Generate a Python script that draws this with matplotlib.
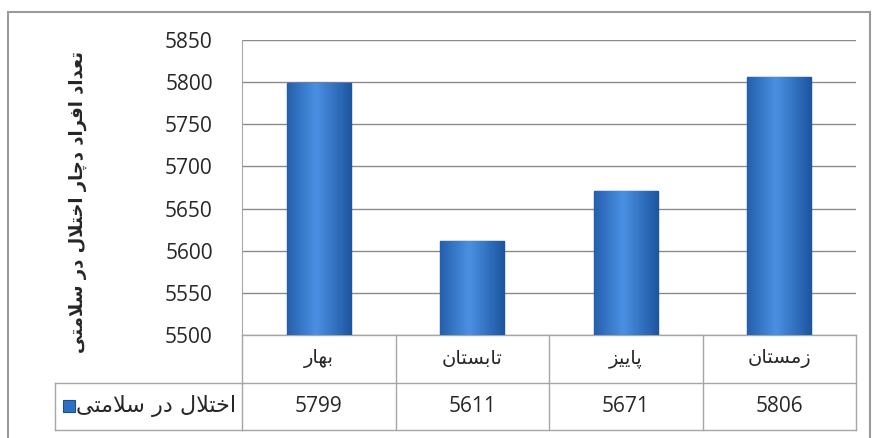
import numpy as np
import matplotlib
matplotlib.use('Agg')
import matplotlib.pyplot as plt
from matplotlib.patches import Rectangle
from matplotlib.transforms import blended_transform_factory

# data
seasons = ['بهار', 'تابستان', 'پاییز', 'زمستان']
values = [5799, 5611, 5671, 5806]
series_name = 'اختلال در سلامتی'
y_title = 'تعداد افراد دچار اختلال در سلامتی'
y_ticks = [5500, 5550, 5600, 5650, 5700, 5750, 5800, 5850]

# arabic shaping by hand (no reshaper installed) -> presentation forms, visual order
FORMS = {
    'ا': ('\ufe8d', '\ufe8e', None, None),
    'ب': ('\ufe8f', '\ufe90', '\ufe91', '\ufe92'),
    'ت': ('\ufe95', '\ufe96', '\ufe97', '\ufe98'),
    'خ': ('\ufea5', '\ufea6', '\ufea7', '\ufea8'),
    'د': ('\ufea9', '\ufeaa', None, None),
    'ر': ('\ufead', '\ufeae', None, None),
    'ز': ('\ufeaf', '\ufeb0', None, None),
    'س': ('\ufeb1', '\ufeb2', '\ufeb3', '\ufeb4'),
    'ع': ('\ufec9', '\ufeca', '\ufecb', '\ufecc'),
    'ف': ('\ufed1', '\ufed2', '\ufed3', '\ufed4'),
    'ل': ('\ufedd', '\ufede', '\ufedf', '\ufee0'),
    'م': ('\ufee1', '\ufee2', '\ufee3', '\ufee4'),
    'ن': ('\ufee5', '\ufee6', '\ufee7', '\ufee8'),
    'ه': ('\ufee9', '\ufeea', '\ufeeb', '\ufeec'),
    'پ': ('\ufb56', '\ufb57', '\ufb58', '\ufb59'),
    'چ': ('\ufb7a', '\ufb7b', '\ufb7c', '\ufb7d'),
    'ی': ('\ufbfc', '\ufbfd', '\ufbfe', '\ufbff'),
}
DUAL = {c for c, f in FORMS.items() if f[2] is not None}


def fa(text):
    out = []
    i = 0
    n = len(text)
    while i < n:
        c = text[i]
        if c not in FORMS:
            out.append(c)
            i += 1
            continue
        prev_joins = i > 0 and text[i - 1] in DUAL
        if c == 'ل' and i + 1 < n and text[i + 1] == 'ا':
            out.append('\ufefc' if prev_joins else '\ufefb')
            i += 2
            continue
        next_joins = c in DUAL and i + 1 < n and text[i + 1] in FORMS
        iso, fin, ini, med = FORMS[c]
        if prev_joins and next_joins:
            out.append(med)
        elif prev_joins:
            out.append(fin)
        elif next_joins:
            out.append(ini)
        else:
            out.append(iso)
        i += 1
    return ''.join(reversed(out))


ar_font = ['DejaVu Sans']
num_font = ['Open Sans', 'DejaVu Sans']
grid_c = '#8a8a8a'
tbl_c = '#a6a6a6'
txt_c = '#262626'

fig = plt.figure(figsize=(8.73, 4.38), dpi=100)
fig.patch.set_facecolor('white')
ax = fig.add_axes([242 / 873, 103 / 438, 614 / 873, 295 / 438])

x = np.arange(len(seasons))
bars = ax.bar(x, values, width=0.42, color='#2f6fc2', edgecolor='#1d4f8e',
              linewidth=1.0, zorder=3)
ax.set_xlim(-0.5, len(seasons) - 0.5)
ax.set_ylim(y_ticks[0], y_ticks[-1])

# horizontal gradient on bars for the excel look
grad = np.linspace(0, 1, 64)
grad = 1 - np.abs(grad - 0.45) * 1.6
cmap = matplotlib.colors.LinearSegmentedColormap.from_list('b', ['#1c55a0', '#4a90e2'])
for b in bars:
    x0 = b.get_x()
    im = ax.imshow(grad[None, :], cmap=cmap, aspect='auto', zorder=3.5,
                   extent=(x0, x0 + b.get_width(), y_ticks[0], b.get_height()))
    im.set_clip_path(b)
ax.set_xlim(-0.5, len(seasons) - 0.5)
ax.set_ylim(y_ticks[0], y_ticks[-1])

ax.set_yticks(y_ticks)
ax.set_yticklabels([str(t) for t in y_ticks], fontsize=15, color=txt_c,
                   family=num_font)
ax.tick_params(axis='y', length=0, pad=21)
ax.set_xticks([])
ax.yaxis.grid(True, color=grid_c, linewidth=1.0, zorder=0)
for s in ['top', 'right', 'bottom']:
    ax.spines[s].set_visible(False)
ax.spines['left'].set_color(tbl_c)

ax.set_ylabel(fa(y_title), family=ar_font, fontsize=13, fontweight='bold',
              color=txt_c, labelpad=0)
ax.yaxis.set_label_coords(-0.252, 0.45)

# data table below plot
tr = blended_transform_factory(ax.transData, ax.transAxes)
row_h = 47.5 / 295
y_rows = [0, -row_h, -2 * row_h]
left = -0.5
right = len(seasons) - 0.5
for yy in y_rows:
    ax.plot([left, right], [yy, yy], transform=tr, color=tbl_c, lw=1.0, clip_on=False)
for xb in np.arange(len(seasons) + 1) - 0.5:
    ax.plot([xb, xb], [0, y_rows[-1]], transform=tr, color=tbl_c, lw=1.0, clip_on=False)
for i, (s, v) in enumerate(zip(seasons, values)):
    ax.text(i, -row_h * 0.5, fa(s), transform=tr, ha='center', va='center',
            fontsize=14, family=ar_font, color=txt_c)
    ax.text(i, -row_h * 1.5, str(v), transform=tr, ha='center', va='center',
            fontsize=15, family=num_font, color=txt_c)

# legend cell on the left of the value row
ta = ax.transAxes
cell_l = -(242 - 55) / 614
ax.plot([cell_l, 0], [y_rows[1], y_rows[1]], transform=ta, color=tbl_c, lw=1.0, clip_on=False)
ax.plot([cell_l, 0], [y_rows[2], y_rows[2]], transform=ta, color=tbl_c, lw=1.0, clip_on=False)
ax.plot([cell_l, cell_l], [y_rows[1], y_rows[2]], transform=ta, color=tbl_c, lw=1.0, clip_on=False)
ax.add_patch(Rectangle(((63 - 242) / 614, -row_h * 1.5 - 6 / 295), 12 / 614, 12 / 295,
                       transform=ta, facecolor='#2f6fc2', edgecolor='#1d4f8e',
                       lw=0.8, clip_on=False))
ax.text((236 - 242) / 614, -row_h * 1.5, fa(series_name), transform=ta,
        ha='right', va='center', fontsize=16, family=ar_font, color=txt_c)

# outer chart border
fig.add_artist(Rectangle((8 / 873, -0.01), 862 / 873, (438 - 12) / 438 + 0.01,
                         transform=fig.transFigure, fill=False,
                         edgecolor='#9a9a9a', lw=1.5))

fig.savefig('out.png', dpi=100)
